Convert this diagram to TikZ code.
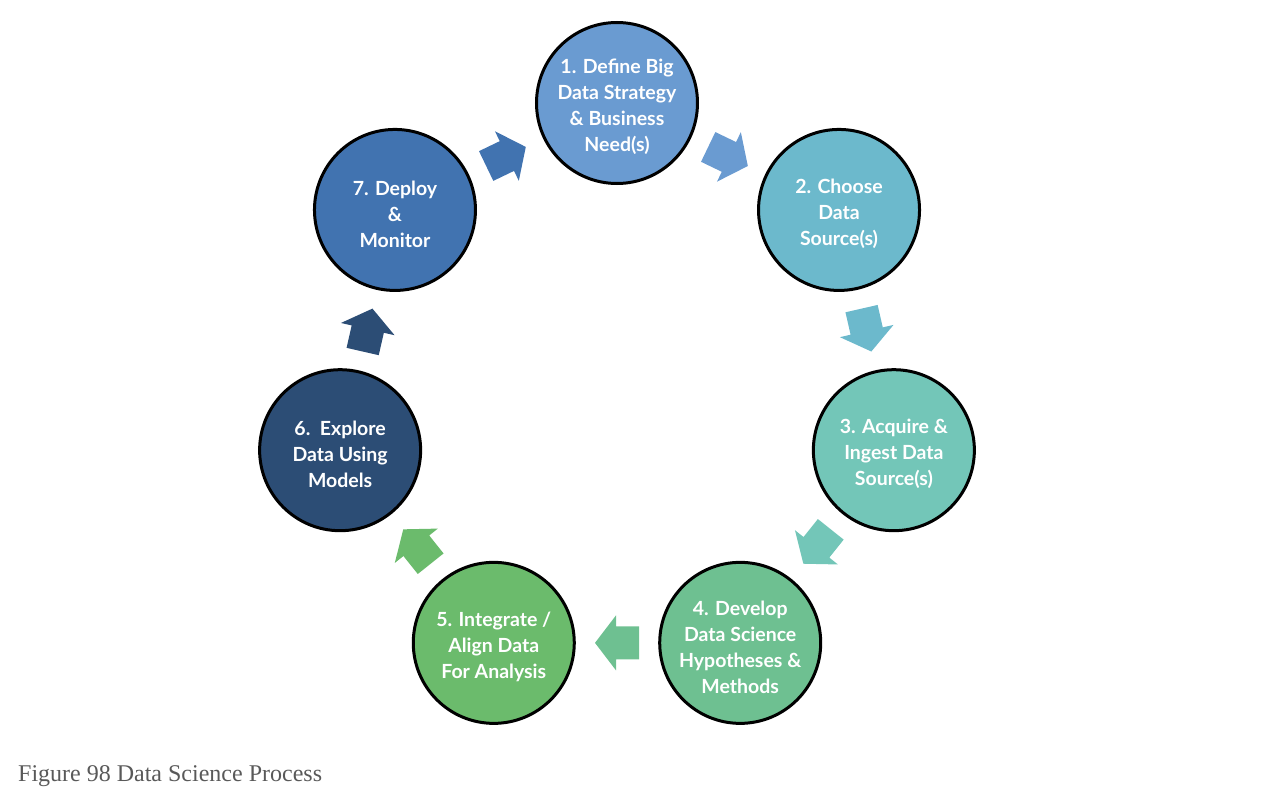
\documentclass[tikz,border=0pt]{standalone}
\usepackage{fontspec}
\setmainfont{Liberation Serif}
\newfontfamily\circfont{Lato}
\usetikzlibrary{calc}
\definecolor{cA}{RGB}{106,155,209}
\definecolor{cB}{RGB}{108,185,204}
\definecolor{cC}{RGB}{115,198,184}
\definecolor{cD}{RGB}{110,192,145}
\definecolor{cE}{RGB}{107,187,108}
\definecolor{cF}{RGB}{44,77,117}
\definecolor{cG}{RGB}{65,115,176}
\definecolor{capgray}{RGB}{89,89,89}
\tikzset{
  stepcircle/.style={circle, draw=black, line width=3pt, minimum size=161pt, inner sep=0pt},
  steptext/.style={text=white, align=center, inner sep=0pt, yshift=-4pt,
    font=\circfont\bfseries\fontsize{19.5}{26}\selectfont},
}
\newcommand{\blockarrow}[3]{%
  \path[fill=#2, shift={(#1)}, rotate=#3]
    (22,0) -- (1,27.5) -- (1,16.5) -- (-22,16.5) -- (-22,-16.5) -- (1,-16.5) -- (1,-27.5) -- cycle;}
\begin{document}
\begin{tikzpicture}[x=1pt,y=1pt]
\useasboundingbox (-617,-409) rectangle (665,387);
\def\R{284}
\node[stepcircle, fill=cA, label={[steptext]center:{1. Define Big\\Data Strategy\\\& Business\\Need(s)}}] (c1) at ({90-0*360/7}:\R) {};
\node[stepcircle, fill=cB, label={[steptext]center:{2. Choose\\Data\\Source(s)}}] (c2) at ({90-1*360/7}:\R) {};
\node[stepcircle, fill=cC, label={[steptext]center:{3. Acquire \&\\Ingest Data\\Source(s)}}] (c3) at ({90-2*360/7}:\R) {};
\node[stepcircle, fill=cD, label={[steptext]center:{4. Develop\\Data Science\\Hypotheses \&\\Methods}}] (c4) at ({90-3*360/7}:\R) {};
\node[stepcircle, fill=cE, label={[steptext]center:{5. Integrate /\\Align Data\\For Analysis}}] (c5) at ({90-4*360/7}:\R) {};
\node[stepcircle, fill=cF, label={[steptext]center:{6.\ \ Explore\\Data Using\\Models}}] (c6) at ({90-5*360/7}:\R) {};
\node[stepcircle, fill=cG, label={[steptext]center:{7. Deploy\\\&\\Monitor}}] (c7) at ({90-6*360/7}:\R) {};
\coordinate (a1) at ($(c1.center)!0.5!(c2.center)$);
\coordinate (a2) at ($(c2.center)!0.5!(c3.center)$);
\coordinate (a3) at ($(c3.center)!0.5!(c4.center)$);
\coordinate (a4) at ($(c4.center)!0.5!(c5.center)$);
\coordinate (a5) at ($(c5.center)!0.5!(c6.center)$);
\coordinate (a6) at ($(c6.center)!0.5!(c7.center)$);
\coordinate (a7) at ($(c7.center)!0.5!(c1.center)$);
\blockarrow{a1}{cA}{-0.5*360/7}
\blockarrow{a2}{cB}{-1.5*360/7}
\blockarrow{a3}{cC}{-2.5*360/7}
\blockarrow{a4}{cD}{-3.5*360/7}
\blockarrow{a5}{cE}{-4.5*360/7}
\blockarrow{a6}{cF}{-5.5*360/7}
\blockarrow{a7}{cG}{-6.5*360/7}
\node[anchor=base west, inner sep=0pt, text=capgray, font=\fontsize{24}{28}\selectfont] (cap) at (-599,-394) {Figure 98 Data Science Process};
\end{tikzpicture}
\end{document}
